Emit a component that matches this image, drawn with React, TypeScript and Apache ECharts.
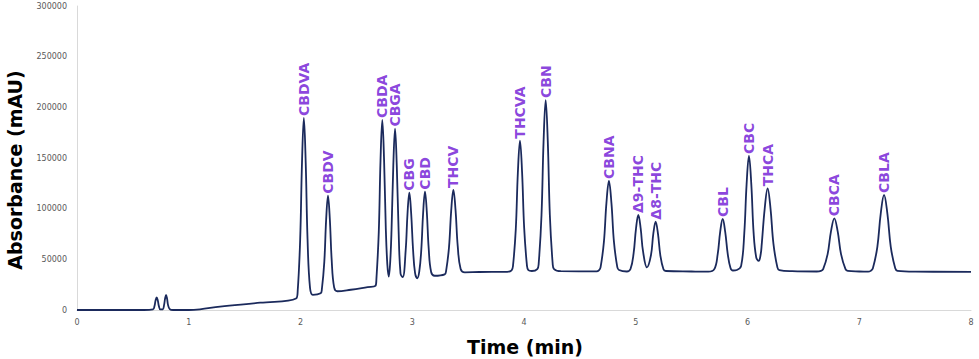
import React, { useEffect, useRef } from "react";
import * as echarts from "echarts";

// Chromatogram trace: [time (min), absorbance (mAU)]
const traceTimes: number[] = [
  0, 0.6, 0.68, 0.6935, 0.703, 0.713, 0.723, 0.7325, 0.7455, 0.767, 0.779, 0.788, 0.797, 0.806, 0.815, 0.83, 0.86,
  1.0, 1.1, 1.28, 1.64, 1.96,
  1.975, 1.997, 2.0135, 2.03, 2.0465, 2.063, 2.085, 2.11,
  2.18, 2.191, 2.213, 2.2295, 2.246, 2.2625, 2.279, 2.301, 2.33, 2.45, 2.6, 2.67,
  2.6795, 2.7005, 2.716, 2.732, 2.748, 2.7635, 2.777, 2.79, 2.803,
  2.8145, 2.8305, 2.846, 2.8615, 2.8775, 2.895, 2.915,
  2.941, 2.9575, 2.974, 2.9905, 3.007, 3.025, 3.045, 3.063,
  3.081, 3.0975, 3.114, 3.1305, 3.147, 3.169, 3.2,
  3.29, 3.303, 3.329, 3.3485, 3.368, 3.3875, 3.407, 3.433, 3.47, 3.6, 3.85,
  3.889, 3.9015, 3.9265, 3.945, 3.964, 3.983, 4.0015, 4.0265, 4.039, 4.07,
  4.119, 4.1315, 4.1565, 4.175, 4.194, 4.213, 4.2315, 4.2565, 4.269, 4.33,
  4.65, 4.67, 4.685, 4.715, 4.7375, 4.76, 4.7825, 4.805, 4.835, 4.85, 4.92,
  4.953, 4.981, 5.002, 5.023, 5.044, 5.065, 5.1,
  5.136, 5.157, 5.178, 5.199, 5.22, 5.248, 5.27, 5.5,
  5.65, 5.703, 5.733, 5.7555, 5.778, 5.8005, 5.823, 5.848, 5.87, 5.905,
  5.943, 5.971, 5.992, 6.013, 6.034, 6.055, 6.078, 6.1, 6.118,
  6.1275, 6.154, 6.18, 6.206, 6.2325, 6.2675, 6.285, 6.4,
  6.62, 6.657, 6.677, 6.717, 6.747, 6.777, 6.807, 6.837, 6.877, 6.897, 7.0,
  7.08, 7.102, 7.122, 7.162, 7.192, 7.222, 7.252, 7.282, 7.322, 7.342, 7.5, 8.0,
];
const traceValues: number[] = [
  0, 0, 550, 4060, 9440, 12500, 9440, 4060, 550, 650, 4810, 11170, 14800, 11170, 4810, 900, 0,
  0, 700, 3300, 7200, 11300,
  19000, 69400, 145900, 189500, 145900, 70000, 22000, 15000,
  16500, 20300, 47500, 89200, 112800, 89500, 49500, 22300, 18500, 20000, 22500, 23700,
  31000, 77100, 147400, 187500, 147400, 80000, 45000, 33000, 48000,
  78400, 142500, 179000, 142500, 80000, 36000, 32500,
  58600, 95000, 115800, 95000, 60000, 36600, 31300, 38000,
  59600, 96000, 116800, 96500, 61000, 37500, 33800,
  35200, 38700, 62100, 98000, 118400, 98500, 63000, 40500, 37200, 37500, 37700,
  39200, 43500, 79800, 135400, 167100, 135600, 81000, 43800, 39300, 38500,
  40400, 45900, 93300, 165900, 207200, 165900, 93300, 45900, 40400, 38300,
  38200, 39200, 42100, 67200, 105500, 127300, 105500, 67200, 42300, 39500, 38000,
  40500, 56100, 80100, 93750, 80500, 58000, 42100,
  54000, 75100, 87200, 75100, 54000, 40200, 38500, 38000,
  37800, 40300, 54800, 77100, 89800, 77200, 55500, 41500, 39000, 39500,
  43500, 75400, 124200, 152000, 124200, 75600, 52000, 48500, 55000,
  65000, 100100, 120100, 100100, 65000, 42100, 39400, 38300,
  38000, 38600, 40300, 55100, 77600, 90500, 77600, 55100, 40300, 38600, 38000,
  37800, 38600, 41100, 62400, 94900, 113500, 94900, 62400, 41100, 38600, 37800, 37700,
];

// Peak annotations
const peakNames: string[] = [
  "CBDVA", "CBDV", "CBDA", "CBGA", "CBG", "CBD", "THCV", "THCVA", "CBN",
  "CBNA", "Δ9-THC", "Δ8-THC", "CBL", "CBC", "THCA", "CBCA", "CBLA",
];
const peakTimes: number[] = [
  2.03, 2.246, 2.732, 2.846, 2.974, 3.114, 3.368, 3.964, 4.194,
  4.76, 5.023, 5.178, 5.778, 6.013, 6.18, 6.777, 7.222,
];
const peakHeights: number[] = [
  189500, 112800, 187500, 179000, 115800, 116800, 118400, 167100, 207200,
  127300, 93750, 87200, 89800, 152000, 120100, 90500, 113500,
];

const yTicks = { min: 0, max: 300000, interval: 50000 };
const xTicks = { min: 0, max: 8, interval: 1 };

export default function App() {
  const ref = useRef<HTMLDivElement>(null);
  useEffect(() => {
    if (!ref.current) return;
    const chart = echarts.init(ref.current, undefined, { renderer: "svg" });
    const trace = traceTimes.map((t, i) => [t, traceValues[i]]);
    const peaks = peakTimes.map((t, i) => ({ value: [t, peakHeights[i]], name: peakNames[i] }));
    const tickFont = { color: "#595959", fontSize: 8, fontFamily: "DejaVu Sans" };
    chart.setOption({
      animation: false,
      backgroundColor: "#ffffff",
      grid: { left: 77, right: 8, top: 6, bottom: 49, containLabel: false },
      xAxis: {
        type: "value",
        min: xTicks.min,
        max: xTicks.max,
        interval: xTicks.interval,
        axisLine: { show: true, lineStyle: { color: "#d9d9d9", width: 1 } },
        axisTick: { show: false },
        splitLine: { show: false },
        axisLabel: { ...tickFont, margin: 8 },
      },
      yAxis: {
        type: "value",
        min: yTicks.min,
        max: yTicks.max,
        interval: yTicks.interval,
        axisLine: { show: true, lineStyle: { color: "#d9d9d9", width: 1 } },
        axisTick: { show: false },
        splitLine: { show: false },
        axisLabel: { ...tickFont, margin: 10, formatter: (v: number) => String(v) },
      },
      series: [
        {
          type: "line",
          data: trace,
          showSymbol: false,
          smooth: 0.4,
          lineStyle: { color: "#1b2a5c", width: 1.8 },
          z: 2,
        },
        {
          type: "scatter",
          data: peaks,
          symbolSize: 0,
          z: 3,
          label: {
            show: true,
            formatter: (p: any) => p.name,
            position: "top",
            distance: 2,
            rotate: 90,
            align: "left",
            verticalAlign: "middle",
            color: "#6d14d4",
            fontSize: 14,
            fontWeight: "bold",
            fontFamily: "DejaVu Sans",
          },
        },
      ],
      graphic: [
        {
          type: "text",
          x: 15,
          y: 170,
          rotation: Math.PI / 2,
          style: {
            text: "Absorbance (mAU)",
            fontSize: 19,
            fontWeight: "bold",
            fontFamily: "DejaVu Sans",
            fill: "#000000",
            textAlign: "center",
            textVerticalAlign: "middle",
          },
        },
        {
          type: "text",
          x: 525,
          y: 347,
          style: {
            text: "Time (min)",
            fontSize: 19,
            fontWeight: "bold",
            fontFamily: "DejaVu Sans",
            fill: "#000000",
            textAlign: "center",
            textVerticalAlign: "middle",
          },
        },
      ],
    });
    return () => chart.dispose();
  }, []);
  return (
    <div
      ref={ref}
      style={{ position: "fixed", left: 0, top: 0, width: 979, height: 359, background: "#fff" }}
    />
  );
}
